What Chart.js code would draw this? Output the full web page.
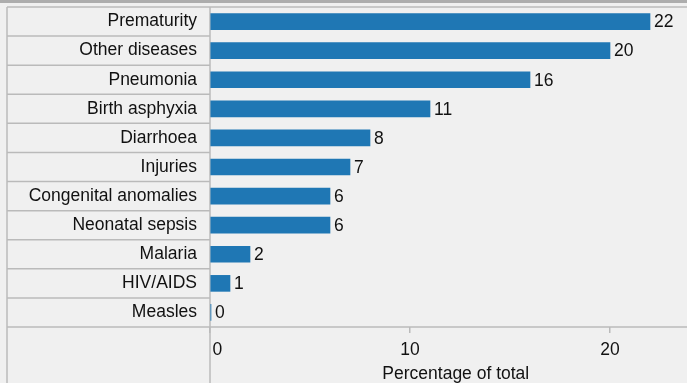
<!DOCTYPE html>
<html>
<head>
<meta charset="utf-8">
<script src="https://cdn.jsdelivr.net/npm/chart.js@4/dist/chart.umd.min.js"></script>
<style>
  html, body { margin: 0; padding: 0; background: #f0f0f0; }
  #wrap { width: 687px; height: 383px; position: relative; }
</style>
</head>
<body>
<div id="wrap"><canvas id="grafica"></canvas></div>
<script>
const causes = ["Prematurity", "Other diseases", "Pneumonia", "Birth asphyxia", "Diarrhoea",
  "Injuries", "Congenital anomalies", "Neonatal sepsis", "Malaria", "HIV/AIDS", "Measles"];
const percents = [22, 20, 16, 11, 8, 7, 6, 6, 2, 1, 0];
const xTicks = [0, 10, 20];

const FONT = "'Liberation Sans', Arial, sans-serif";
const FSIZE = 17.5;
const lineCol = '#bababa';

// background, frame lines and the separators in the label column
const frame = {
  id: 'frame',
  beforeDraw(chart) {
    const ctx = chart.ctx;
    const a = chart.chartArea;
    ctx.save();
    ctx.fillStyle = '#f0f0f0';
    ctx.fillRect(0, 0, chart.width, chart.height);
    ctx.fillStyle = '#adadad';
    ctx.fillRect(0, 0, chart.width, 3);
    ctx.strokeStyle = lineCol;
    ctx.lineWidth = 1.5;
    ctx.beginPath();
    ctx.moveTo(7, a.top); ctx.lineTo(chart.width, a.top);
    ctx.moveTo(7, a.bottom); ctx.lineTo(chart.width, a.bottom);
    ctx.moveTo(7, a.top); ctx.lineTo(7, chart.height);
    ctx.moveTo(a.left, a.top); ctx.lineTo(a.left, chart.height);
    const y = chart.scales.y;
    for (let i = 1; i < causes.length; i++) {
      const py = (y.getPixelForValue(i - 1) + y.getPixelForValue(i)) / 2;
      ctx.moveTo(7, py); ctx.lineTo(a.left, py);
    }
    ctx.stroke();
    ctx.restore();
  },
  afterDatasetsDraw(chart) {
    const ctx = chart.ctx;
    const bars = chart.getDatasetMeta(0).data;
    ctx.save();
    ctx.font = FSIZE + 'px ' + FONT;
    ctx.fillStyle = '#111';
    ctx.textBaseline = 'middle';
    bars.forEach((b, i) => {
      ctx.fillText(String(percents[i]), b.x + 4, b.y + 1);
    });
    ctx.restore();
  }
};

new Chart(document.getElementById('grafica').getContext('2d'), {
  type: 'bar',
  data: {
    labels: causes,
    datasets: [{
      data: percents,
      backgroundColor: '#1f77b4',
      barThickness: 16,
      minBarLength: 1
    }]
  },
  options: {
    indexAxis: 'y',
    responsive: true,
    maintainAspectRatio: false,
    animation: false,
    layout: { padding: { top: 7, left: 0, right: 0, bottom: 0 } },
    plugins: { legend: { display: false }, tooltip: { enabled: false } },
    scales: {
      y: {
        afterFit(s) { s.width = 210; s.paddingTop = 0; s.paddingBottom = 0; },
        grid: { display: false, drawTicks: false },
        border: { display: false },
        ticks: { padding: 13, color: '#111', font: { family: FONT, size: FSIZE } }
      },
      x: {
        min: 0,
        max: 23.85,
        afterFit(s) { s.height = 56; s.paddingLeft = 0; s.paddingRight = 0; },
        afterBuildTicks(s) { s.ticks = xTicks.map(v => ({ value: v })); },
        grid: { drawOnChartArea: false, drawTicks: true, tickLength: 6, color: lineCol, lineWidth: 1.5 },
        border: { display: false },
        ticks: {
          padding: 7,
          color: '#111',
          font: { family: FONT, size: FSIZE },
          callback: v => v === 0 ? '   0' : String(v)
        },
        title: {
          display: true,
          text: '   Percentage of total',
          color: '#111',
          font: { family: FONT, size: FSIZE, lineHeight: 1 },
          padding: { top: 0, bottom: 0 }
        }
      }
    }
  },
  plugins: [frame]
});
</script>
</body>
</html>
